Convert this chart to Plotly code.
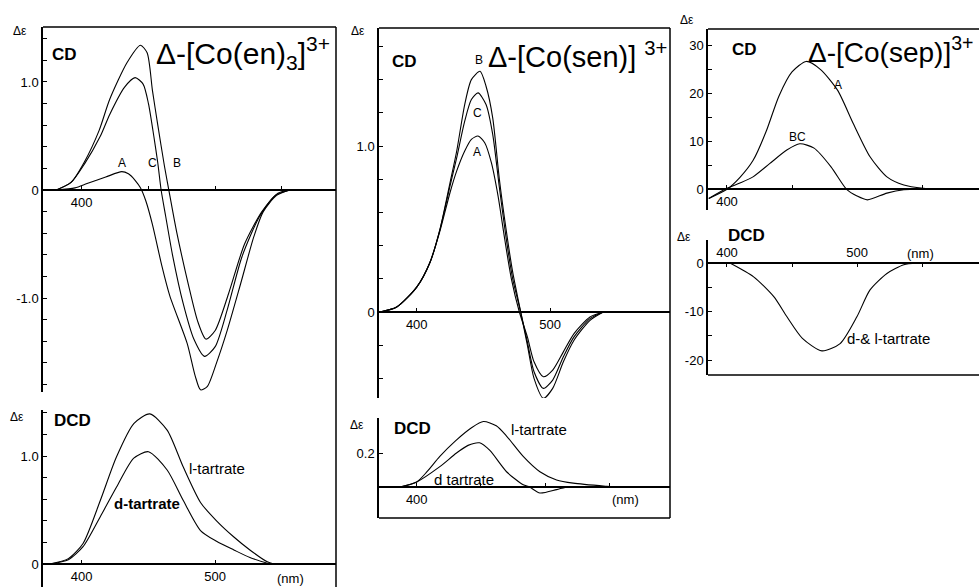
import plotly.graph_objects as go

W, H = 979, 587

# ---------------- data ----------------
# Panel 1: Δ-[Co(en)3]3+ CD
en_A_nm = [381, 395, 404, 418, 430, 435, 440, 444, 448, 453, 460, 466, 479, 485, 489, 494, 501, 509, 519, 529, 536, 546, 556]
en_A_de = [0, 0.02, 0.06, 0.12, 0.17, 0.15, 0.09, 0.02, -0.1, -0.32, -0.7, -0.98, -1.42, -1.72, -1.85, -1.82, -1.6, -1.3, -0.87, -0.43, -0.2, -0.05, 0]
en_C_nm = [381, 392, 402, 414, 421, 432, 440, 446, 450, 454, 457, 459.5, 463, 468, 476, 484, 492, 500, 509, 520, 533, 545, 556]
en_C_de = [0, 0.07, 0.24, 0.5, 0.7, 0.95, 1.04, 0.98, 0.8, 0.5, 0.25, 0, -0.25, -0.6, -1.05, -1.38, -1.54, -1.45, -1.11, -0.62, -0.25, -0.05, 0]
en_B_nm = [381, 392, 402, 413, 421, 434, 444, 449, 453, 457, 462, 466, 471, 480, 487, 493, 500, 510, 522, 535, 547, 556]
en_B_de = [0, 0.07, 0.26, 0.55, 0.84, 1.18, 1.34, 1.27, 0.92, 0.6, 0.22, -0.05, -0.38, -0.88, -1.22, -1.38, -1.3, -0.96, -0.5, -0.2, -0.03, 0]

# Panel 1: DCD
en_l_nm = [376, 390, 401, 414, 426, 439, 451, 464, 476, 489, 501, 514, 526, 539, 544]
en_l_de = [0, 0.05, 0.19, 0.59, 0.99, 1.3, 1.39, 1.24, 0.9, 0.57, 0.4, 0.25, 0.13, 0.02, 0]
en_d_nm = [376, 390, 401, 414, 426, 439, 450, 464, 476, 489, 501, 514, 526, 541]
en_d_de = [0, 0.04, 0.16, 0.44, 0.71, 0.98, 1.04, 0.87, 0.59, 0.31, 0.21, 0.13, 0.06, 0]

# Panel 2: Δ-[Co(sen)]3+ CD
sen_B_nm = [372.5, 385, 400, 410, 417.5, 425, 430, 436, 441, 447.5, 452, 457, 462, 467, 472, 478, 483, 488, 495, 502, 510, 518, 530, 540]
sen_B_de = [0, 0.03, 0.15, 0.3, 0.5, 0.78, 0.97, 1.25, 1.4, 1.45, 1.36, 1.17, 0.8, 0.5, 0.24, 0, -0.2, -0.4, -0.52, -0.46, -0.3, -0.17, -0.05, 0]
sen_C_nm = [372.5, 385, 400, 410, 417.5, 425, 430, 436, 441, 446, 452, 457, 462, 467, 472, 478, 483, 488, 495, 502, 510, 518, 530, 540]
sen_C_de = [0, 0.03, 0.15, 0.3, 0.5, 0.76, 0.93, 1.15, 1.28, 1.32, 1.25, 1.07, 0.75, 0.45, 0.2, 0, -0.18, -0.36, -0.46, -0.41, -0.27, -0.15, -0.04, 0]
sen_A_nm = [372.5, 385, 400, 410, 417.5, 425, 430, 436, 441, 446, 451, 456, 461, 466, 471, 477, 483, 488, 495, 502, 510, 518, 530, 540]
sen_A_de = [0, 0.03, 0.15, 0.3, 0.49, 0.72, 0.85, 0.97, 1.04, 1.06, 1.02, 0.9, 0.7, 0.44, 0.2, 0, -0.15, -0.3, -0.39, -0.35, -0.24, -0.13, -0.03, 0]

# Panel 2: DCD
sen_l_nm = [387, 400, 408, 418, 430, 443, 452, 462, 470, 483, 496, 509, 522, 548, 555]
sen_l_de = [0, 0.03, 0.09, 0.18, 0.27, 0.35, 0.385, 0.36, 0.3, 0.18, 0.09, 0.042, 0.023, 0.004, 0]
sen_d_nm = [387, 400, 418, 431, 440, 449, 457, 470, 483, 488, 496, 509, 517]
sen_d_de = [0, 0.03, 0.12, 0.2, 0.245, 0.26, 0.215, 0.09, 0.013, 0, -0.035, -0.015, 0]

# Panel 3: Δ-[Co(sep)]3+ CD
sep_A_nm = [386, 400, 410, 420, 430, 440, 450, 461, 472, 485, 497, 510, 523, 536, 551, 562]
sep_A_de = [-1.9, 0, 2.5, 6.0, 12.0, 19.5, 24.5, 26.7, 25.0, 20.7, 13.8, 6.8, 2.6, 0.9, 0.2, 0]
sep_BC_nm = [386, 400, 410, 420, 433, 446, 456, 467, 480, 492, 500, 508, 523, 536, 549]
sep_BC_de = [-1.9, 0.2, 1.3, 2.6, 5.4, 8.2, 9.5, 8.6, 4.7, 0, -1.4, -2.2, -0.8, -0.1, 0]

# Panel 3: DCD (d- & l-tartrate)
sep_dl_nm = [402.6, 420.5, 436, 446, 458, 473, 487, 500, 510, 523, 536, 546]
sep_dl_de = [0, -2.8, -6.9, -11.0, -15.5, -18.1, -16.6, -11.0, -5.5, -2.1, -0.3, 0]

# tick values / labels
en_cd_major = [-1.0, 0, 1.0]
en_cd_major_txt = ["-1.0", "0", "1.0"]
en_dcd_major = [0, 1.0]
en_dcd_major_txt = ["0", "1.0"]
sen_cd_major = [0, 1.0]
sen_cd_major_txt = ["0", "1.0"]
sen_dcd_major = [0.2]
sen_dcd_major_txt = ["0.2"]
sep_cd_major = [0, 10, 20, 30]
sep_cd_major_txt = ["0", "10", "20", "30"]
sep_dcd_major = [-20, -10, 0]
sep_dcd_major_txt = ["-20", "-10", "0"]

# ---------------- layout helpers ----------------
def X(px):
    return px / W

def Y(py):
    return 1 - py / H

fig = go.Figure()
LW = 1.1

def add(nm, de, ax):
    fig.add_trace(go.Scatter(x=nm, y=de, mode="lines", xaxis="x" + ax, yaxis="y" + ax,
                             line=dict(color="black", width=LW, shape="spline", smoothing=0.7),
                             showlegend=False, hoverinfo="skip"))

add(en_A_nm, en_A_de, "")
add(en_C_nm, en_C_de, "")
add(en_B_nm, en_B_de, "")
add(en_l_nm, en_l_de, "2")
add(en_d_nm, en_d_de, "2")
add(sen_B_nm, sen_B_de, "3")
add(sen_C_nm, sen_C_de, "3")
add(sen_A_nm, sen_A_de, "3")
add(sen_l_nm, sen_l_de, "4")
add(sen_d_nm, sen_d_de, "4")
add(sep_A_nm, sep_A_de, "5")
add(sep_BC_nm, sep_BC_de, "5")
add(sep_dl_nm, sep_dl_de, "6")

FONT = "Liberation Sans, Arial, sans-serif"
tickfont = dict(family=FONT, size=13, color="black")

def steps(a, b, s):
    out = []
    v = a
    while v <= b + 1e-9:
        out.append(round(v, 3))
        v += s
    return out

panels = [
    # name, x px dom, y px dom, xrange, yrange, y major, y labels, y minor, x major, x labels, x minor, side
    ("", (43, 336), (27, 392), (371, 590.5), (-1.870, 1.509),
     en_cd_major, en_cd_major_txt, steps(-1.8, 1.4, 0.2), [400], ["400"], [450, 500, 550], "bottom"),
    ("2", (43, 336), (410, 587), (371, 590.5), (-0.213, 1.426),
     en_dcd_major, en_dcd_major_txt, steps(0.2, 1.4, 0.2), [400, 500], ["400", "500"], [], "bottom"),
    ("3", (379, 670), (28, 398), (371.7, 590), (-0.518, 1.711),
     sen_cd_major, sen_cd_major_txt, steps(-0.4, 1.6, 0.2), [400, 500], ["400", "500"], [], "bottom"),
    ("4", (379, 670), (418, 518), (370.6, 597.4), (-0.182, 0.406),
     sen_dcd_major, sen_dcd_major_txt, [], [400], ["400"], [450, 500, 550], "bottom"),
    ("5", (708, 979), (29, 210), (385.4, 593.8), (-4.32, 33.47),
     sep_cd_major, sep_cd_major_txt, [5, 15, 25], [400], ["400"], [450, 550], "bottom"),
    ("6", (708, 979), (240, 375), (385.4, 593.8), (-23.08, 4.81),
     sep_dcd_major, sep_dcd_major_txt, [-15, -5], [400, 500], ["400", "500"], [450, 550], "top"),
]

for name, xd, yd, xr, yr, yt, ytt, ymin, xt, xtt, xmin, xside in panels:
    ymin = [v for v in ymin if all(abs(v - m) > 1e-6 for m in yt)]
    ydom = [Y(yd[1]), Y(yd[0])]
    zero_pos = ydom[0] + (0 - yr[0]) / (yr[1] - yr[0]) * (ydom[1] - ydom[0])
    fig.update_layout(**{
        "xaxis" + name: dict(domain=[X(xd[0]), X(xd[1])], range=list(xr), anchor="free",
                             position=zero_pos, side=xside, showline=True, linecolor="black",
                             linewidth=2, showgrid=False, zeroline=False, ticks="inside",
                             ticklen=3, tickwidth=1, tickcolor="black", tickmode="array",
                             tickvals=xt, ticktext=xtt, tickfont=tickfont,
                             minor=dict(tickmode="array", tickvals=xmin, ticks="inside", ticklen=3,
                                        tickwidth=1, tickcolor="black", showgrid=False)),
        "yaxis" + name: dict(domain=ydom, range=list(yr), anchor="x" + name, showline=True,
                             linecolor="black", linewidth=1.5, showgrid=False, zeroline=False,
                             ticks="inside", ticklen=4, tickwidth=1, tickcolor="black",
                             tickmode="array", tickvals=yt, ticktext=ytt, tickfont=tickfont,
                             minor=dict(tickmode="array", tickvals=ymin, ticks="inside", ticklen=4,
                                        tickwidth=1, tickcolor="black", showgrid=False)),
    })

# frame lines (borders)
def frame(x0, y0, x1, y1, w=1.5):
    fig.add_shape(type="line", xref="paper", yref="paper", x0=X(x0), y0=Y(y0), x1=X(x1), y1=Y(y1),
                  line=dict(color="black", width=w))

frame(43, 27, 336, 27)
frame(336, 27, 336, 587)
frame(379, 28, 670, 28)
frame(670, 28, 670, 518)
frame(379, 518, 670, 518)
frame(708, 29, 979, 29)
frame(708, 375, 979, 375)

def note(text, px, py, size=12, bold=False, xanchor="center", yanchor="middle"):
    if bold:
        text = "<b>" + text + "</b>"
    fig.add_annotation(text=text, x=X(px), y=Y(py), xref="paper", yref="paper", showarrow=False,
                       xanchor=xanchor, yanchor=yanchor,
                       font=dict(family=FONT, size=size, color="black"))

# Δε labels
for px, py in [(20, 31), (358, 31), (687, 20), (17, 417), (357, 425), (684, 237)]:
    note("Δε", px, py, size=12)

# CD / DCD labels
for px, py in [(64, 55), (404, 62), (744, 50)]:
    note("CD", px, py, size=17, bold=True)
for px, py in [(72, 420), (412, 428), (746, 235)]:
    note("DCD", px, py, size=17, bold=True)

# titles
note("Δ-[Co(en)<sub>3</sub>]<sup>3+</sup>", 154, 53, size=30, xanchor="left")
note("Δ-[Co(sen)] <sup>3+</sup>", 486, 55, size=29, xanchor="left")
note("Δ-[Co(sep)]<sup>3+</sup>", 806, 50, size=28, xanchor="left")

# curve labels
note("A", 122, 163)
note("C", 152, 163)
note("B", 177, 163)
note("B", 479, 60)
note("C", 477, 113)
note("A", 477, 152)
note("A", 838, 85)
note("BC", 797, 137)
note("l-tartrate", 217, 468, size=15)
note("d-tartrate", 147, 503, size=15, bold=True)
note("l-tartrate", 539, 429, size=15)
note("d tartrate", 464, 479, size=15)
note("d-& l-tartrate", 888, 338, size=15)

# (nm) unit labels
note("(nm)", 290, 578, size=13)
note("(nm)", 625, 499, size=13)
note("(nm)", 920, 253, size=13)

fig.update_layout(width=W, height=H, margin=dict(l=0, r=0, t=0, b=0),
                  plot_bgcolor="white", paper_bgcolor="white", showlegend=False)

fig.write_html("out.html")
